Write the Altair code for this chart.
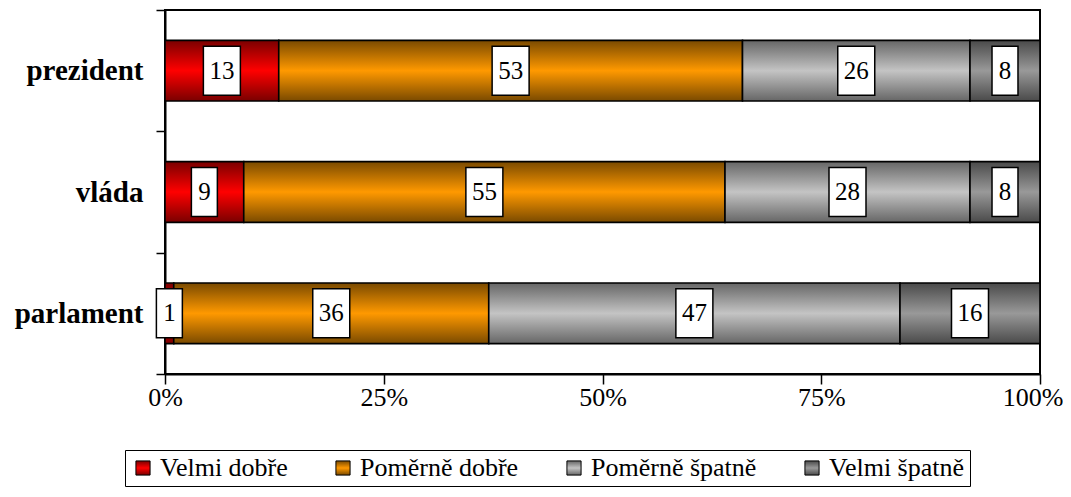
import altair as alt
import pandas as pd

categories = ["prezident", "vláda", "parlament"]
series = ["Velmi dobře", "Poměrně dobře", "Poměrně špatně", "Velmi špatně"]
values_prezident = [13, 53, 26, 8]
values_vlada = [9, 55, 28, 8]
values_parlament = [1, 36, 47, 16]
x_ticks = [0, 0.25, 0.5, 0.75, 1]

rows = []
for cat, vals in zip(categories, [values_prezident, values_vlada, values_parlament]):
    for i, (s, v) in enumerate(zip(series, vals)):
        rows.append({"cat": cat, "series": s, "order": i, "value": v, "digits": str(len(str(v)))})
df = pd.DataFrame(rows)


def grad(edge, mid):
    return {"expr": ("{gradient:'linear',x1:0,y1:0,x2:0,y2:1,stops:["
                     "{offset:0,color:'%s'},{offset:0.5,color:'%s'},{offset:1,color:'%s'}]}") % (edge, mid, edge)}


color_range = [
    grad("#7a0000", "#ff0000"),
    grad("#7a4a00", "#ff9900"),
    grad("#666666", "#c4c4c4"),
    grad("#4a4a4a", "#999999"),
]

FONT = "Liberation Serif"

y_enc = alt.Y("cat:N", sort=categories,
              scale=alt.Scale(domain=categories, paddingInner=0, paddingOuter=0),
              axis=alt.Axis(title=None, labelFont=FONT, labelFontSize=29, labelFontWeight="bold",
                            labelColor="black", tickBand="extent", tickSize=9, tickColor="black",
                            tickWidth=1.5, domainColor="black", domainWidth=2, labelPadding=13))

bars = alt.Chart(df).mark_bar(stroke="black", strokeWidth=1.6, height={"band": 0.5}).encode(
    x=alt.X("value:Q", stack="normalize",
            scale=alt.Scale(domain=[0, 1], nice=False),
            axis=alt.Axis(title=None, values=x_ticks, format=".0%", labelFont=FONT, labelFontSize=26,
                          labelColor="black", tickSize=10, tickColor="black", tickWidth=1.5,
                          domainColor="black", domainWidth=2, labelPadding=0, grid=False,
                          labelFlush=False, labelOverlap=False,
                          labelAlign={"condition": {"test": "datum.value == 1", "value": "right"}, "value": "center"},
                          labelOffset={"condition": {"test": "datum.value == 1", "value": 23}, "value": 0})),
    y=y_enc,
    color=alt.Color("series:N", sort=series,
                    scale=alt.Scale(domain=series, range=color_range),
                    legend=alt.Legend(title=None, orient="none", legendX=-40, legendY=440,
                                      direction="horizontal", columns=4, columnPadding=42,
                                      labelFont=FONT, labelFontSize=26, labelColor="black",
                                      labelLimit=400, labelOffset=4,
                                      symbolType="square", symbolSize=200,
                                      symbolStrokeColor="black", symbolStrokeWidth=1,
                                      strokeColor="black", padding=5, fillColor="white")),
    order=alt.Order("order:Q"),
)

base = alt.Chart(df).transform_stack(
    stack="value", groupby=["cat"], as_=["x0", "x1"], sort=[alt.SortField("order")], offset="normalize"
).transform_calculate(mid="(datum.x0 + datum.x1) / 2")

path1 = "M-0.53,-1L0.53,-1L0.53,1L-0.53,1Z"
path2 = "M-0.755,-1L0.755,-1L0.755,1L-0.755,1Z"

boxes = base.mark_point(filled=True, fill="white", stroke="black", strokeWidth=1.5, opacity=1, size=2401).encode(
    x=alt.X("mid:Q"),
    y=alt.Y("cat:N", sort=categories),
    shape=alt.Shape("digits:N", scale=alt.Scale(domain=["1", "2"], range=[path1, path2]), legend=None),
)

labels = base.mark_text(font=FONT, fontSize=25, color="black", baseline="middle", align="center").encode(
    x=alt.X("mid:Q"),
    y=alt.Y("cat:N", sort=categories),
    text=alt.Text("value:Q"),
)

chart = alt.layer(bars, boxes, labels).properties(
    width=875, height=364,
    background="white",
    autosize=alt.AutoSizeParams(type="none"),
    padding={"left": 157, "top": 2, "right": 23, "bottom": 115},
).configure_view(stroke="black", strokeWidth=2)

chart.save("out.html", embed_options={"renderer": "svg", "actions": False})
